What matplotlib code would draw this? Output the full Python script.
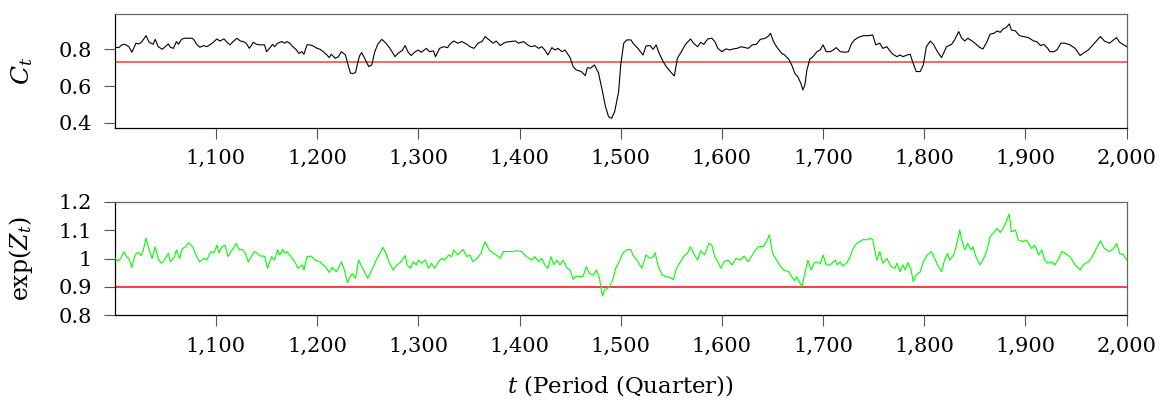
import matplotlib
matplotlib.use("Agg")
import matplotlib.pyplot as plt
from matplotlib.ticker import FixedLocator, FuncFormatter

plt.rcParams['font.family'] = ['DejaVu Serif']
plt.rcParams['mathtext.fontset'] = 'dejavuserif'

# ---------------- data ----------------
c_period = [1000, 1004, 1007, 1010, 1014, 1017, 1021, 1024, 1027, 1031, 1034, 1038, 1040, 1043, 1047, 1050,
            1053, 1055, 1058, 1061, 1063, 1066, 1069, 1073, 1076, 1078, 1081, 1084, 1088, 1091, 1094, 1097,
            1101, 1104, 1108, 1111, 1114, 1117, 1121, 1124, 1127, 1130, 1133, 1135, 1137, 1140, 1144, 1148,
            1150, 1153, 1156, 1158, 1161, 1165, 1168, 1170, 1173, 1176, 1179, 1182, 1185, 1187, 1190, 1193,
            1196, 1200, 1203, 1206, 1209, 1212, 1214, 1218, 1221, 1224, 1228, 1231, 1233, 1236, 1238, 1240,
            1242, 1244, 1247, 1251, 1254, 1257, 1260, 1264, 1268, 1272, 1277, 1280, 1284, 1287, 1290, 1293,
            1297, 1300, 1303, 1308, 1311, 1315, 1317, 1321, 1325, 1329, 1331, 1335, 1339, 1343, 1348, 1351,
            1355, 1359, 1363, 1366, 1370, 1374, 1377, 1381, 1386, 1391, 1396, 1399, 1404, 1409, 1412, 1415,
            1419, 1422, 1425, 1428, 1432, 1435, 1438, 1442, 1445, 1450, 1453, 1456, 1461, 1465, 1467, 1470,
            1474, 1478, 1482, 1485, 1488, 1491, 1494, 1498, 1500, 1503, 1506, 1510, 1513, 1517, 1522, 1525,
            1529, 1532, 1535, 1538, 1542, 1545, 1549, 1553, 1556, 1560, 1564, 1569, 1572, 1576, 1579, 1582,
            1586, 1590, 1593, 1596, 1600, 1604, 1608, 1611, 1615, 1619, 1623, 1626, 1630, 1634, 1638, 1643,
            1646, 1648, 1651, 1654, 1659, 1662, 1666, 1669, 1672, 1675, 1678, 1680, 1682, 1684, 1687, 1690,
            1694, 1697, 1700, 1703, 1707, 1710, 1713, 1717, 1722, 1725, 1728, 1731, 1735, 1740, 1745, 1749,
            1752, 1756, 1759, 1763, 1766, 1769, 1773, 1776, 1779, 1783, 1786, 1789, 1792, 1796, 1799, 1802,
            1806, 1809, 1813, 1817, 1822, 1827, 1830, 1834, 1837, 1840, 1843, 1848, 1852, 1855, 1858, 1862,
            1865, 1869, 1872, 1875, 1878, 1881, 1884, 1886, 1890, 1894, 1898, 1903, 1908, 1911, 1915, 1918,
            1922, 1924, 1928, 1931, 1935, 1939, 1944, 1949, 1954, 1957, 1962, 1965, 1970, 1974, 1978, 1983,
            1987, 1990, 1993, 1997, 2000]
c_value = [.811, .809, .824, .827, .814, .784, .833, .829, .842, .874, .838, .827, .854, .814, .800, .814,
           .829, .811, .805, .842, .827, .854, .860, .860, .860, .854, .827, .811, .820, .814, .824, .836,
           .856, .845, .856, .838, .824, .842, .860, .845, .842, .833, .805, .820, .838, .827, .824, .824,
           .787, .805, .827, .814, .833, .842, .833, .842, .833, .814, .800, .778, .787, .773, .824, .824,
           .818, .805, .800, .787, .773, .755, .773, .751, .760, .787, .769, .706, .670, .668, .675, .724,
           .765, .782, .751, .706, .715, .787, .827, .854, .833, .805, .760, .778, .793, .820, .784, .766,
           .787, .796, .784, .805, .787, .791, .760, .805, .814, .809, .827, .845, .833, .842, .827, .814,
           .805, .833, .842, .869, .851, .833, .845, .820, .838, .842, .845, .833, .842, .820, .814, .820,
           .805, .814, .796, .769, .809, .796, .805, .787, .796, .755, .706, .688, .679, .657, .700, .697,
           .715, .673, .570, .488, .434, .425, .461, .570, .715, .833, .851, .851, .827, .805, .769, .818,
           .820, .800, .824, .778, .733, .706, .679, .655, .751, .787, .827, .856, .833, .814, .838, .827,
           .856, .860, .842, .805, .787, .802, .796, .802, .805, .814, .809, .805, .824, .827, .854, .860,
           .872, .887, .842, .814, .778, .769, .746, .715, .670, .651, .615, .579, .607, .688, .747, .760,
           .787, .796, .824, .787, .787, .796, .809, .787, .784, .787, .830, .851, .865, .874, .874, .878,
           .824, .833, .805, .814, .791, .773, .760, .769, .760, .769, .773, .724, .679, .679, .715, .814,
           .845, .827, .787, .755, .814, .827, .851, .896, .860, .845, .860, .842, .824, .809, .802, .842,
           .882, .887, .900, .892, .911, .918, .938, .905, .900, .874, .869, .863, .845, .842, .820, .827,
           .805, .787, .787, .796, .833, .833, .824, .805, .766, .778, .796, .814, .845, .869, .845, .833,
           .851, .863, .838, .824, .814]
c_threshold = 0.731

z_period = [1000, 1003, 1006, 1009, 1012, 1014, 1017, 1020, 1023, 1026, 1028, 1031, 1034, 1037, 1040, 1043,
            1046, 1049, 1053, 1055, 1059, 1061, 1064, 1067, 1070, 1073, 1077, 1081, 1084, 1088, 1091, 1095,
            1098, 1101, 1103, 1106, 1109, 1112, 1115, 1120, 1123, 1126, 1129, 1132, 1135, 1138, 1141, 1144,
            1148, 1151, 1155, 1158, 1161, 1163, 1166, 1168, 1170, 1174, 1178, 1181, 1185, 1187, 1190, 1194,
            1198, 1203, 1206, 1209, 1212, 1215, 1219, 1221, 1224, 1227, 1230, 1233, 1235, 1238, 1241, 1245,
            1250, 1254, 1259, 1262, 1265, 1268, 1271, 1275, 1279, 1283, 1287, 1289, 1292, 1295, 1298, 1300,
            1303, 1307, 1310, 1313, 1316, 1320, 1323, 1326, 1330, 1333, 1335, 1339, 1342, 1344, 1348, 1351,
            1354, 1358, 1362, 1364, 1366, 1370, 1374, 1377, 1381, 1384, 1389, 1394, 1397, 1402, 1407, 1412,
            1415, 1419, 1422, 1425, 1428, 1431, 1434, 1437, 1440, 1443, 1447, 1450, 1453, 1456, 1460, 1463,
            1466, 1469, 1473, 1476, 1479, 1482, 1484, 1487, 1489, 1492, 1495, 1499, 1502, 1506, 1510, 1512,
            1516, 1521, 1525, 1529, 1532, 1534, 1537, 1541, 1545, 1549, 1552, 1555, 1559, 1562, 1566, 1569,
            1572, 1576, 1579, 1583, 1587, 1590, 1593, 1596, 1599, 1602, 1606, 1610, 1614, 1618, 1622, 1626,
            1629, 1632, 1636, 1641, 1644, 1647, 1650, 1654, 1658, 1661, 1666, 1669, 1672, 1674, 1679, 1682,
            1685, 1688, 1691, 1694, 1697, 1700, 1703, 1707, 1712, 1714, 1717, 1719, 1723, 1726, 1729, 1733,
            1736, 1740, 1743, 1746, 1749, 1753, 1756, 1759, 1763, 1767, 1771, 1773, 1776, 1779, 1781, 1784,
            1787, 1789, 1792, 1796, 1799, 1803, 1807, 1811, 1814, 1817, 1820, 1823, 1825, 1829, 1831, 1835,
            1837, 1840, 1843, 1846, 1848, 1851, 1855, 1858, 1862, 1865, 1868, 1872, 1875, 1878, 1881, 1884,
            1886, 1890, 1893, 1897, 1901, 1906, 1909, 1913, 1916, 1919, 1922, 1926, 1929, 1932, 1936, 1939,
            1944, 1949, 1954, 1957, 1962, 1965, 1970, 1974, 1978, 1983, 1987, 1990, 1993, 1997, 2000]
z_value = [1.001, .992, 1.001, 1.025, 1.005, 1.001, .969, 1.013, 1.022, 1.011, 1.027, 1.072, 1.031, 1.001, 1.042, .998,
           .984, .995, 1.019, .989, 1.007, 1.031, 1.001, 1.036, 1.042, 1.056, 1.042, 1.007, .989, 1.001, .995, 1.025,
           1.021, 1.048, 1.021, 1.042, 1.048, 1.007, 1.025, 1.054, 1.031, 1.033, 1.019, .989, 1.007, 1.025, 1.019, 1.009,
           1.009, .966, 1.007, .995, 1.031, 1.013, 1.033, 1.019, 1.025, 1.007, .989, .966, .978, .960, 1.007, 1.009,
           .995, .989, .978, .969, .951, .969, .954, .966, .989, .960, .915, .939, .948, .931, .995, .966,
           .931, .960, .999, 1.019, 1.040, 1.019, .989, .960, .978, .989, 1.011, .978, .966, .989, .978, .995,
           .984, .995, .966, .984, .966, .989, 1.001, .995, 1.013, 1.007, 1.031, 1.013, 1.025, 1.033, 1.007, 1.013,
           .989, 1.001, 1.019, 1.042, 1.060, 1.031, 1.019, 1.013, 1.001, 1.025, 1.025, 1.025, 1.028, 1.025, 1.007, .995,
           1.007, .989, 1.001, .978, .966, 1.007, .978, .995, .978, .995, .966, .960, .927, .939, .936, .939,
           .972, .948, .942, .960, .931, .868, .890, .895, .900, .925, .966, .993, 1.019, 1.031, 1.033, 1.013,
           .995, .966, 1.013, 1.001, 1.007, 1.021, .974, .942, .936, .934, .925, .966, .989, 1.007, 1.019, 1.042,
           1.019, .995, 1.028, 1.013, 1.054, 1.048, 1.007, .989, .966, .989, .995, .978, 1.001, .995, 1.009, .989,
           1.007, 1.025, 1.042, 1.044, 1.060, 1.084, 1.019, .995, .972, .960, .954, .936, .922, .936, .901, .948,
           .995, .960, .984, .989, .981, 1.013, .978, .978, .995, .978, .989, .974, .984, 1.001, 1.031, 1.054,
           1.060, 1.068, 1.066, 1.072, 1.068, .995, 1.025, .984, 1.001, .972, .966, .984, .954, .978, .960, .986,
           .960, .919, .942, .954, .989, 1.013, 1.025, .995, .972, .954, .995, 1.019, .995, 1.013, 1.036, 1.101,
           1.066, 1.031, 1.054, 1.031, 1.042, 1.007, .978, .995, 1.031, 1.078, 1.089, 1.107, 1.092, 1.107, 1.131, 1.158,
           1.095, 1.101, 1.066, 1.060, 1.066, 1.036, 1.048, 1.013, 1.031, .995, .984, .989, .978, .995, 1.025, 1.019,
           1.007, .978, .960, .978, .989, 1.001, 1.036, 1.063, 1.036, 1.025, 1.036, 1.054, 1.019, 1.013, .995]
z_threshold = 0.9

x_ticks = [1100, 1200, 1300, 1400, 1500, 1600, 1700, 1800, 1900, 2000]
c_yticks = [0.4, 0.6, 0.8]
z_yticks = [0.8, 0.9, 1.0, 1.1, 1.2]

# ---------------- figure ----------------
W, H = 1160, 403
fig = plt.figure(figsize=(W / 100, H / 100), dpi=100)

def px_axes(left, top, right, bottom):
    return fig.add_axes([left / W, 1 - bottom / H, (right - left) / W, (bottom - top) / H])

ax1 = px_axes(114.7, 14.3, 1126.7, 127.7)
ax2 = px_axes(114.7, 202.0, 1126.7, 315.3)

ax1.plot(c_period, c_value, color='black', lw=0.8, zorder=3)
ax1.axhline(c_threshold, color='#f26666', lw=1.4, zorder=2)
ax1.set_ylim(0.374, 0.99)

ax2.plot(z_period, z_value, color='#00ff00', lw=0.8, zorder=3)
ax2.axhline(z_threshold, color='#ff1a1a', lw=1.2, zorder=2)
ax2.set_ylim(0.8, 1.2)

fmt_x = FuncFormatter(lambda v, p: f"{int(round(v)):,}")
fmt_y = FuncFormatter(lambda v, p: f"{v:g}")

for ax, yt in ((ax1, c_yticks), (ax2, z_yticks)):
    ax.set_xlim(1000, 2000)
    ax.xaxis.set_major_locator(FixedLocator(x_ticks))
    ax.xaxis.set_major_formatter(fmt_x)
    ax.yaxis.set_major_locator(FixedLocator(yt))
    ax.yaxis.set_major_formatter(fmt_y)
    ax.tick_params(axis='both', direction='out', length=7.8, width=0.8,
                   color='#555555', labelsize=15, pad=7.5)
    ax.tick_params(axis='y', pad=8.5)
    ax.spines['left'].set_color('black')
    ax.spines['bottom'].set_color('black')
    ax.spines['top'].set_color('#666666')
    ax.spines['right'].set_color('#666666')
    for s in ax.spines.values():
        s.set_linewidth(0.9)

ax1.set_ylabel(r'$C_t$', fontsize=18)
ax2.set_ylabel(r'$\exp(Z_t)$', fontsize=17)
ax1.yaxis.set_label_coords(-0.079, 0.5)
ax2.yaxis.set_label_coords(-0.079, 0.5)

fig.text(620 / W, 1 - 386 / H, r'$t$ (Period (Quarter))', ha='center', va='center', fontsize=16.5)

fig.savefig('out.png', dpi=100)
